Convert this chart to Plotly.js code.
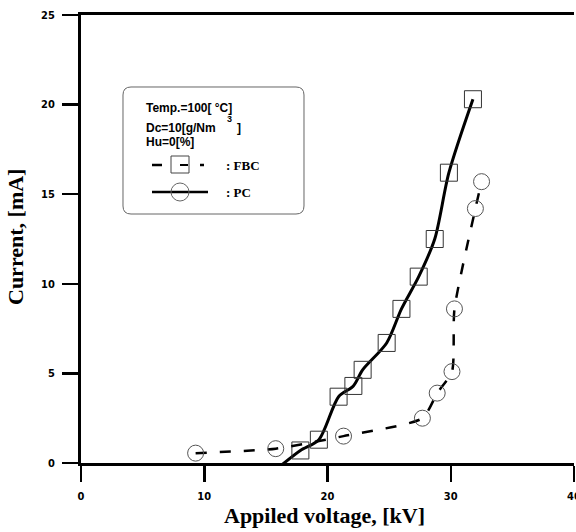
<!DOCTYPE html>
<html><head><meta charset="utf-8">
<script src="https://cdn.plot.ly/plotly-3.0.1.min.js"></script>
<style>html,body{margin:0;padding:0;background:#fff}#chart{width:576px;height:532px}</style>
</head><body><div id="chart"></div>
<script>
// Data
const squareVoltage = [16.3, 17.8, 19.3, 20.9, 22.1, 22.85, 24.8, 26.0, 27.4, 28.7, 29.85, 31.8];
const squareCurrent = [-0.1, 0.7, 1.3, 3.7, 4.3, 5.2, 6.7, 8.6, 10.4, 12.5, 16.2, 20.3];
const circleVoltage = [9.3, 15.8, 21.3, 27.7, 28.9, 30.1, 30.3, 32.0, 32.5];
const circleCurrent = [0.55, 0.8, 1.5, 2.5, 3.9, 5.1, 8.6, 14.2, 15.7];
const xTickValues = [0, 10, 20, 30, 40];
const xTickLabels = ['0', '10', '20', '30', '40'];
const yTickValues = [0, 5, 10, 15, 20, 25];
const yTickLabels = ['0', '5', '10', '15', '20', '25'];
const conditionLines = ['Temp.=100[ \u00B0C]', 'Dc=10[g/Nm', 'Hu=0[%]'];
const unitParts = ['3', ']'];
const seriesNames = [': FBC', ': PC'];
const xTitle = 'Appiled voltage, [kV]';
const yTitle = 'Current, [mA]';

// pixel -> paper helpers (plot area: x 81..574, y 15..463)
const L = 81, R = 574, T = 15, B = 463;
const px = x => (x - L) / (R - L);
const py = y => (B - y) / (B - T);

const traces = [
  {
    x: squareVoltage, y: squareCurrent, type: 'scatter', mode: 'lines+markers',
    line: {color: '#000', width: 3, shape: 'spline', smoothing: 0.8},
    marker: {symbol: 'square-open', size: 17, color: '#333', line: {width: 1}},
    cliponaxis: false, showlegend: false
  },
  {
    x: circleVoltage, y: circleCurrent, type: 'scatter', mode: 'lines+markers',
    line: {color: '#000', width: 2.5, dash: '11px,13px', shape: 'spline', smoothing: 0.6},
    marker: {symbol: 'circle-open', size: 16, color: '#555', line: {width: 1}},
    cliponaxis: false, showlegend: false
  }
];

const tickFont = {family: 'Liberation Sans Narrow, DejaVu Sans Condensed, sans-serif', size: 11, color: '#000', weight: 'bold'};
const legFont = {family: 'Liberation Sans, Arial, sans-serif', size: 12, color: '#000', weight: 'bold'};
const serFont = {family: 'Liberation Serif, Times New Roman, serif', size: 13, color: '#000', weight: 'bold'};

function roundedBox(x0, y0, x1, y1, r) {
  const X = v => px(v).toFixed(5), Y = v => py(v).toFixed(5);
  return 'M' + X(x0 + r) + ',' + Y(y0) + ' L' + X(x1 - r) + ',' + Y(y0) +
    ' Q' + X(x1) + ',' + Y(y0) + ' ' + X(x1) + ',' + Y(y0 + r) +
    ' L' + X(x1) + ',' + Y(y1 - r) + ' Q' + X(x1) + ',' + Y(y1) + ' ' + X(x1 - r) + ',' + Y(y1) +
    ' L' + X(x0 + r) + ',' + Y(y1) + ' Q' + X(x0) + ',' + Y(y1) + ' ' + X(x0) + ',' + Y(y1 - r) +
    ' L' + X(x0) + ',' + Y(y0 + r) + ' Q' + X(x0) + ',' + Y(y0) + ' ' + X(x0 + r) + ',' + Y(y0) + ' Z';
}
function seg(x0, x1, y, w, color) {
  return {type: 'line', xref: 'paper', yref: 'paper', x0: px(x0), x1: px(x1), y0: py(y), y1: py(y),
    line: {color: color || '#000', width: w}};
}

const shapes = [
  {type: 'path', xref: 'paper', yref: 'paper', path: roundedBox(123, 87, 304, 214, 8),
    line: {color: '#666', width: 1}, fillcolor: 'rgba(0,0,0,0)'},
  // FBC sample: dashed line with square
  seg(152, 162, 165, 2.5), seg(180, 188, 165, 2), seg(200, 204, 165, 2.5),
  {type: 'rect', xref: 'paper', yref: 'paper', x0: px(171), x1: px(189), y0: py(156), y1: py(173),
    line: {color: '#444', width: 1}},
  // PC sample: solid line with circle
  seg(152, 208, 192, 2.5),
  {type: 'circle', xref: 'paper', yref: 'paper', x0: px(171), x1: px(189), y0: py(183), y1: py(201),
    line: {color: '#666', width: 1}}
];

const annotations = [
  {text: conditionLines[0], xref: 'paper', yref: 'paper', x: px(144), y: py(108), xanchor: 'left', yanchor: 'middle', showarrow: false, font: legFont},
  {text: conditionLines[1], xref: 'paper', yref: 'paper', x: px(144), y: py(128), xanchor: 'left', yanchor: 'middle', showarrow: false, font: legFont},
  {text: unitParts[0], xref: 'paper', yref: 'paper', x: px(229), y: py(119), xanchor: 'center', yanchor: 'middle', showarrow: false,
    font: {family: 'Liberation Sans, Arial, sans-serif', size: 9, color: '#000', weight: 'bold'}},
  {text: unitParts[1], xref: 'paper', yref: 'paper', x: px(235), y: py(128), xanchor: 'left', yanchor: 'middle', showarrow: false, font: legFont},
  {text: conditionLines[2], xref: 'paper', yref: 'paper', x: px(144), y: py(142), xanchor: 'left', yanchor: 'middle', showarrow: false, font: legFont},
  {text: seriesNames[0], xref: 'paper', yref: 'paper', x: px(224), y: py(165), xanchor: 'left', yanchor: 'middle', showarrow: false, font: serFont},
  {text: seriesNames[1], xref: 'paper', yref: 'paper', x: px(224), y: py(192), xanchor: 'left', yanchor: 'middle', showarrow: false, font: serFont},
  {text: xTitle, xref: 'paper', yref: 'paper', x: px(324), y: py(515), xanchor: 'center', yanchor: 'middle', showarrow: false,
    font: {family: 'Liberation Serif, Times New Roman, serif', size: 22, color: '#000', weight: 'bold'}},
  {text: yTitle, xref: 'paper', yref: 'paper', x: px(15), y: py(237), xanchor: 'center', yanchor: 'middle', textangle: -90, showarrow: false,
    font: {family: 'Liberation Serif, Times New Roman, serif', size: 22, color: '#000', weight: 'bold'}}
];

const layout = {
  width: 576, height: 532,
  margin: {l: L, r: 576 - R, t: T, b: 532 - B, pad: 0},
  paper_bgcolor: '#fff', plot_bgcolor: '#fff',
  showlegend: false,
  xaxis: {
    range: [0, 40], showgrid: false, zeroline: false,
    showline: true, linecolor: '#000', linewidth: 3, mirror: true,
    ticks: 'outside', ticklen: 16, tickwidth: 2.5, tickcolor: '#000',
    tickvals: xTickValues, ticktext: xTickLabels, tickfont: tickFont, ticklabelstandoff: 5,
    ticklabeloverflow: 'allow'
  },
  yaxis: {
    range: [0, 25], showgrid: false, zeroline: false,
    showline: true, linecolor: '#000', linewidth: 3,
    ticks: 'outside', ticklen: 16, tickwidth: 2.5, tickcolor: '#000',
    tickvals: yTickValues, ticktext: yTickLabels, tickfont: tickFont, ticklabelstandoff: 5,
    ticklabeloverflow: 'allow'
  },
  shapes: shapes,
  annotations: annotations
};

Plotly.newPlot('chart', traces, layout, {displayModeBar: false, staticPlot: true});
</script>
</body></html>
